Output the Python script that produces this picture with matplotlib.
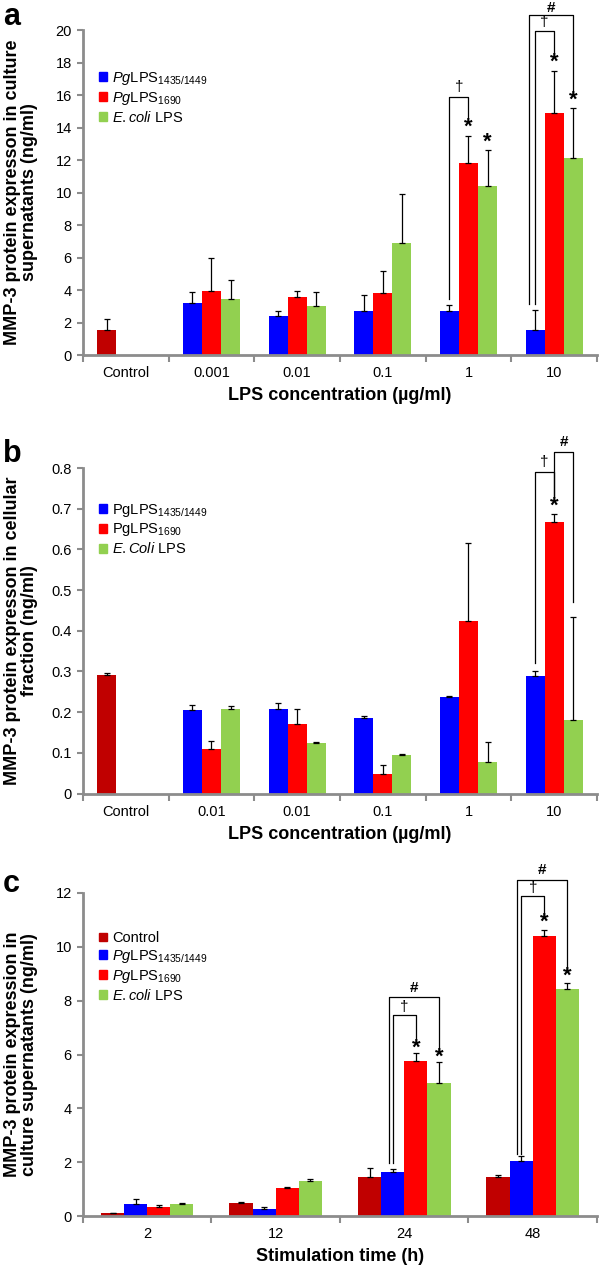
import matplotlib
matplotlib.use('Agg')
import matplotlib.pyplot as plt
from matplotlib.patches import Patch
import numpy as np

plt.rcParams['font.family'] = ['Liberation Sans', 'DejaVu Sans']
plt.rcParams['mathtext.fontset'] = 'custom'
plt.rcParams['mathtext.rm'] = 'Liberation Sans'
plt.rcParams['mathtext.it'] = 'Liberation Sans:italic'
plt.rcParams['mathtext.bf'] = 'Liberation Sans:bold'

# ---- data: panel a (culture supernatants, dose) ----
a_cats = ['Control', '0.001', '0.01', '0.1', '1', '10']
a_ctrl, a_ctrl_err = 1.53, 0.67
a_blue = [3.2, 2.43, 2.72, 2.72, 1.55]
a_blue_err = [0.7, 0.29, 0.97, 0.35, 1.21]
a_red = [3.92, 3.57, 3.81, 11.81, 14.87]
a_red_err = [2.04, 0.37, 1.39, 1.69, 2.61]
a_green = [3.44, 3.01, 6.91, 10.39, 12.14]
a_green_err = [1.2, 0.89, 2.99, 2.23, 3.06]

# ---- data: panel b (cellular fraction, dose) ----
b_cats = ['Control', '0.01', '0.01', '0.1', '1', '10']
b_ctrl, b_ctrl_err = 0.292, 0.003
b_blue = [0.205, 0.208, 0.186, 0.237, 0.29]
b_blue_err = [0.012, 0.014, 0.005, 0.003, 0.01]
b_red = [0.11, 0.172, 0.049, 0.425, 0.667]
b_red_err = [0.018, 0.035, 0.022, 0.191, 0.02]
b_green = [0.208, 0.124, 0.094, 0.077, 0.18]
b_green_err = [0.006, 0.002, 0.004, 0.049, 0.253]

# ---- data: panel c (time course) ----
c_cats = ['2', '12', '24', '48']
c_ctrl = [0.1, 0.47, 1.46, 1.44]
c_ctrl_err = [0.02, 0.06, 0.33, 0.07]
c_blue = [0.43, 0.25, 1.62, 2.05]
c_blue_err = [0.21, 0.1, 0.14, 0.17]
c_red = [0.33, 1.06, 5.75, 10.41]
c_red_err = [0.08, 0.03, 0.31, 0.2]
c_green = [0.46, 1.31, 4.94, 8.43]
c_green_err = [0.02, 0.08, 0.78, 0.23]

DARK = '#C00000'
BLUE = '#0000FF'
RED = '#FF0000'
GREEN = '#92D050'
GRAY = '#8C8C8C'

lbl_pg1 = r'$\mathit{Pg}$LPS$_{1435/1449}$'
lbl_pg2 = r'$\mathit{Pg}$LPS$_{1690}$'
lbl_ec = r'$\mathit{E.coli}$ LPS'

fig = plt.figure(figsize=(6, 12.67), dpi=100)


def style_axes(ax, ncat, ymax, ystep, fmt):
    ax.set_xlim(-0.5, ncat - 0.5)
    ax.set_ylim(0, ymax)
    ax.set_yticks(np.arange(0, ymax + ystep / 2, ystep))
    ax.set_yticklabels([fmt.format(v) for v in np.arange(0, ymax + ystep / 2, ystep)])
    for s in ['top', 'right']:
        ax.spines[s].set_visible(False)
    for s in ['left', 'bottom']:
        ax.spines[s].set_color(GRAY)
        ax.spines[s].set_linewidth(2)
    ax.tick_params(axis='y', length=4, width=1.5, color=GRAY, labelsize=10.5, pad=4)
    ax.set_xticks(np.arange(ncat + 1) - 0.5)
    ax.set_xticklabels([])
    ax.tick_params(axis='x', which='major', length=5, width=1.5, color=GRAY)
    ax.set_xticks(np.arange(ncat), minor=True)
    ax.tick_params(axis='x', which='minor', length=0, labelsize=10.5, pad=8)


def bars(ax, x, vals, errs, color, w):
    ax.bar(x, vals, w, color=color, edgecolor='none', zorder=2)
    ax.errorbar(x, vals, yerr=[np.zeros(len(vals)), errs], fmt='none',
                ecolor='black', elinewidth=0.9, capsize=2.2, capthick=0.9, zorder=3)


def bracket(ax, x1, y1, x2, y2, ytop, text, ty):
    ax.plot([x1, x1, x2, x2], [y1, ytop, ytop, y2], color='black', lw=0.9,
            clip_on=False, zorder=4)
    ax.text((x1 + x2) / 2, ty, text, ha='center', va='center', fontsize=11,
            fontweight='bold' if text == '#' else 'normal', clip_on=False)


def star(ax, x, y):
    ax.text(x, y, '*', ha='center', va='center', fontsize=16, fontweight='bold',
            clip_on=False)


def labels(ax, xl, yl):
    ax.set_xlabel(xl, fontsize=13, fontweight='bold', labelpad=5)
    ax.set_ylabel(yl, fontsize=13, fontweight='bold', linespacing=1.0)
    ax.yaxis.set_label_coords(-0.088, 0.5)


leg_kw = dict(loc='upper left', frameon=False, fontsize=10.5, handlelength=0.55,
              handleheight=0.55, handletextpad=0.35, labelspacing=0.2, borderaxespad=0)

# ================= panel a =================
w = 0.222
axa = fig.add_axes([0.1383, 0.7198, 0.8567, 0.2565])
xa = np.arange(1, len(a_cats))
bars(axa, [0 - w], [a_ctrl], [a_ctrl_err], DARK, w)
bars(axa, xa - w, a_blue, a_blue_err, BLUE, w)
bars(axa, xa, a_red, a_red_err, RED, w)
bars(axa, xa + w, a_green, a_green_err, GREEN, w)
style_axes(axa, len(a_cats), 20, 2, '{:.0f}')
axa.set_xticklabels(a_cats, minor=True)
labels(axa, 'LPS concentration (µg/ml)',
       'MMP-3 protein expresson in culture\nsupernatants (ng/ml)')
hand = [Patch(color=BLUE), Patch(color=RED), Patch(color=GREEN)]
axa.legend(hand, [lbl_pg1, lbl_pg2, lbl_ec], bbox_to_anchor=(0.02, 0.895), **leg_kw)
# significance marks, group "1"
g = 4
bracket(axa, g - w, 3.44, g, 14.58, 15.9, '†', 16.5)
star(axa, g, 14.0)
star(axa, g + w, 13.1)
# group "10"
g = 5
bracket(axa, g - w, 3.13, g, 18.6, 19.94, '†', 20.5)
bracket(axa, g - w - 0.07, 3.13, g + w, 16.0, 20.9, '#', 21.35)
star(axa, g, 18.0)
star(axa, g + w, 15.7)
fig.text(0.005, 1 - 25 / 1267, 'a', fontsize=22, fontweight='bold', va='baseline')

# ================= panel b =================
axb = fig.add_axes([0.1383, 0.3737, 0.8567, 0.2569])
xb = np.arange(1, len(b_cats))
bars(axb, [0 - w], [b_ctrl], [b_ctrl_err], DARK, w)
bars(axb, xb - w, b_blue, b_blue_err, BLUE, w)
bars(axb, xb, b_red, b_red_err, RED, w)
bars(axb, xb + w, b_green, b_green_err, GREEN, w)
style_axes(axb, len(b_cats), 0.8, 0.1, '{:.1f}')
axb.set_yticklabels(['0'] + ['{:.1f}'.format(v) for v in np.arange(0.1, 0.85, 0.1)])
axb.set_xticklabels(b_cats, minor=True)
labels(axb, 'LPS concentration (µg/ml)',
       'MMP-3 protein expresson in cellular\nfraction (ng/ml)')
axb.legend(hand, ['PgLPS$_{1435/1449}$', 'PgLPS$_{1690}$', r'$\mathit{E.Coli}$ LPS'],
           bbox_to_anchor=(0.02, 0.915), **leg_kw)
g = 5
bracket(axb, g - w, 0.32, g, 0.73, 0.79, '†', 0.815)
bracket(axb, g, 0.73, g + w, 0.47, 0.84, '#', 0.865)
star(axb, g, 0.705)
fig.text(0.005, 1 - 462 / 1267, 'b', fontsize=22, fontweight='bold', va='baseline')

# ================= panel c =================
wc = 0.18
axc = fig.add_axes([0.1383, 0.0402, 0.8567, 0.2550])
xc = np.arange(len(c_cats))
bars(axc, xc - 1.5 * wc, c_ctrl, c_ctrl_err, DARK, wc)
bars(axc, xc - 0.5 * wc, c_blue, c_blue_err, BLUE, wc)
bars(axc, xc + 0.5 * wc, c_red, c_red_err, RED, wc)
bars(axc, xc + 1.5 * wc, c_green, c_green_err, GREEN, wc)
style_axes(axc, len(c_cats), 12, 2, '{:.0f}')
axc.set_xticklabels(c_cats, minor=True)
labels(axc, 'Stimulation time (h)',
       'MMP-3 protein expression in\nculture supernatants (ng/ml)')
handc = [Patch(color=DARK), Patch(color=BLUE), Patch(color=RED), Patch(color=GREEN)]
axc.legend(handc, ['Control', lbl_pg1, lbl_pg2, lbl_ec],
           bbox_to_anchor=(0.02, 0.9), **leg_kw)
for g, lo, hi_d, hi_h, r_d, g_d, st_r, st_g in [
        (2, 1.98, 7.48, 8.13, 6.56, 6.06, 6.25, 5.9),
        (3, 2.29, 11.9, 12.5, 11.08, 9.06, 10.9, 8.9)]:
    bracket(axc, g - 0.5 * wc, lo, g + 0.5 * wc, r_d, hi_d, '†', hi_d + 0.3)
    bracket(axc, g - 0.5 * wc - 0.03, lo, g + 1.5 * wc, g_d, hi_h, '#', hi_h + 0.35)
    star(axc, g + 0.5 * wc, st_r)
    star(axc, g + 1.5 * wc, st_g)
fig.text(0.005, 1 - 892 / 1267, 'c', fontsize=22, fontweight='bold', va='baseline')

fig.savefig('out.png', dpi=100)
